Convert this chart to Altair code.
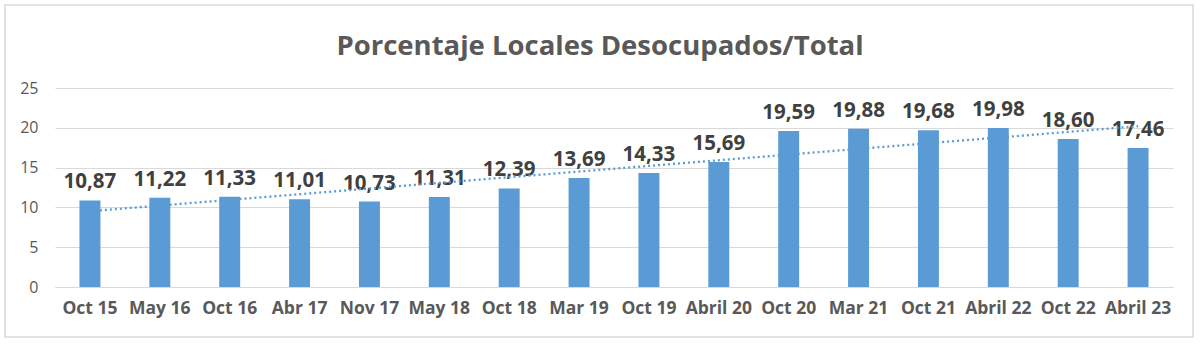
import altair as alt
import pandas as pd

periods = ["Oct 15", "May 16", "Oct 16", "Abr 17", "Nov 17", "May 18", "Oct 18", "Mar 19",
           "Oct 19", "Abril 20", "Oct 20", "Mar 21", "Oct  21", "Abril 22", "Oct 22", "Abril 23"]
values = [10.87, 11.22, 11.33, 11.01, 10.73, 11.31, 12.39, 13.69,
          14.33, 15.69, 19.59, 19.88, 19.68, 19.98, 18.60, 17.46]
y_ticks = [0, 5, 10, 15, 20, 25]

df = pd.DataFrame({"periodo": periods, "valor": values})

FONT = "Open Sans"
BLUE = "#5B9BD5"

x_band = alt.X("periodo:N", sort=periods, title=None,
               scale=alt.Scale(paddingInner=0.7, paddingOuter=0.35),
               axis=alt.Axis(labelAngle=0, labelFontSize=17.5, labelFontWeight="bold",
                             labelColor="#595959", labelPadding=12, ticks=False,
                             domain=True, domainColor="#d9d9d9", labelFont=FONT))
y_enc = alt.Y("valor:Q", title=None,
              scale=alt.Scale(domain=[0, 25], nice=False),
              axis=alt.Axis(values=y_ticks, labelFontSize=16, labelColor="#595959",
                            labelPadding=17, ticks=False, domain=False,
                            gridColor="#d9d9d9", labelFont=FONT))

base = alt.Chart(df)

bars = base.mark_bar(color=BLUE).encode(x=x_band, y=y_enc)

labels = base.transform_calculate(
    lab="replace(format(datum.valor, '.2f'), '.', ',')"
).mark_text(dy=-18, fontSize=20.5, fontWeight="bold", color="#404040", font=FONT).encode(
    x=x_band, y=y_enc, text="lab:N")

bar_layer = alt.layer(bars, labels)

trend = base.transform_window(
    idx="row_number()"
).transform_regression("idx", "valor").mark_line(
    color=BLUE, strokeDash=[2, 3], strokeWidth=2.3
).encode(
    x=alt.X("idx:Q", scale=alt.Scale(domain=[0.5, 16.5], nice=False, zero=False), axis=None),
    y=y_enc)

border = alt.Chart(alt.Data(values=[{}])).mark_rect(
    fill=None, stroke="#d9d9d9", strokeWidth=1.5
).encode(x=alt.value(-50), x2=alt.value(1138), y=alt.value(-83), y2=alt.value(249))

chart = alt.layer(bar_layer, trend, border).resolve_scale(x="independent").properties(
    width=1118, height=199,
    padding={"left": 55, "top": 88, "right": 27, "bottom": 57},
    autosize=alt.AutoSizeParams(type="none"),
    background="white",
    title=alt.TitleParams("Porcentaje Locales Desocupados/Total", fontSize=27.5,
                          fontWeight="bold", color="#595959", font=FONT,
                          anchor="middle", offset=-56, dx=-14),
).configure_view(stroke=None)

chart.save("out.html", embed_options={"renderer": "svg", "actions": False})
